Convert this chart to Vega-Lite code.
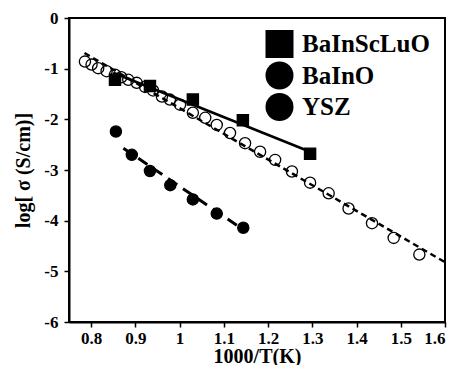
{
  "$schema": "https://vega.github.io/schema/vega-lite/v6.json",
  "width": 376,
  "height": 304,
  "autosize": "none",
  "padding": {"left": 69, "top": 18, "right": 17, "bottom": 43},
  "background": "white",
  "config": {
    "view": {"stroke": "black", "strokeWidth": 2},
    "font": "Liberation Serif",
    "axis": {
      "domain": true,
      "domainColor": "black",
      "domainWidth": 2,
      "tickColor": "black",
      "tickWidth": 1.5,
      "tickSize": 5,
      "grid": false,
      "labelFont": "Liberation Serif",
      "labelFontWeight": "bold",
      "labelFontSize": 17,
      "labelColor": "black",
      "titleFont": "Liberation Serif",
      "titleFontWeight": "bold",
      "titleFontSize": 20,
      "titleColor": "black"
    }
  },
  "datasets": {
    "points": [
      {"series": "BaInScLuO", "x": 0.854, "y": -1.22},
      {"series": "BaInScLuO", "x": 0.933, "y": -1.34},
      {"series": "BaInScLuO", "x": 1.030, "y": -1.61},
      {"series": "BaInScLuO", "x": 1.143, "y": -2.02},
      {"series": "BaInScLuO", "x": 1.295, "y": -2.68},
      {"series": "BaInO", "x": 0.856, "y": -2.24},
      {"series": "BaInO", "x": 0.892, "y": -2.70},
      {"series": "BaInO", "x": 0.933, "y": -3.02},
      {"series": "BaInO", "x": 0.979, "y": -3.30},
      {"series": "BaInO", "x": 1.030, "y": -3.58},
      {"series": "BaInO", "x": 1.084, "y": -3.86},
      {"series": "BaInO", "x": 1.144, "y": -4.14},
      {"series": "YSZ", "x": 0.786, "y": -0.86},
      {"series": "YSZ", "x": 0.801, "y": -0.92},
      {"series": "YSZ", "x": 0.816, "y": -0.99},
      {"series": "YSZ", "x": 0.835, "y": -1.05},
      {"series": "YSZ", "x": 0.854, "y": -1.12},
      {"series": "YSZ", "x": 0.868, "y": -1.17},
      {"series": "YSZ", "x": 0.884, "y": -1.22},
      {"series": "YSZ", "x": 0.903, "y": -1.28},
      {"series": "YSZ", "x": 0.922, "y": -1.36},
      {"series": "YSZ", "x": 0.940, "y": -1.43},
      {"series": "YSZ", "x": 0.960, "y": -1.55},
      {"series": "YSZ", "x": 0.978, "y": -1.61},
      {"series": "YSZ", "x": 1.001, "y": -1.71},
      {"series": "YSZ", "x": 1.030, "y": -1.87},
      {"series": "YSZ", "x": 1.058, "y": -1.97},
      {"series": "YSZ", "x": 1.084, "y": -2.11},
      {"series": "YSZ", "x": 1.114, "y": -2.27},
      {"series": "YSZ", "x": 1.148, "y": -2.47},
      {"series": "YSZ", "x": 1.182, "y": -2.64},
      {"series": "YSZ", "x": 1.216, "y": -2.80},
      {"series": "YSZ", "x": 1.254, "y": -3.03},
      {"series": "YSZ", "x": 1.295, "y": -3.25},
      {"series": "YSZ", "x": 1.337, "y": -3.46},
      {"series": "YSZ", "x": 1.382, "y": -3.76},
      {"series": "YSZ", "x": 1.435, "y": -4.05},
      {"series": "YSZ", "x": 1.484, "y": -4.34},
      {"series": "YSZ", "x": 1.542, "y": -4.67}
    ],
    "fits": [
      {"series": "BaInScLuO", "x": 0.85, "y": -1.08},
      {"series": "BaInScLuO", "x": 1.295, "y": -2.64},
      {"series": "BaInO", "x": 0.873, "y": -2.57},
      {"series": "BaInO", "x": 1.148, "y": -4.2},
      {"series": "YSZ", "x": 0.785, "y": -0.69},
      {"series": "YSZ", "x": 1.6, "y": -4.82}
    ]
  },
  "encoding": {
    "x": {
      "field": "x", "type": "quantitative",
      "scale": {"domain": [0.75, 1.6], "nice": false, "zero": false},
      "axis": {
        "orient": "bottom",
        "title": "1000/T(K)",
        "values": [0.8, 0.9, 1, 1.1, 1.2, 1.3, 1.4, 1.5, 1.6],
        "labelExpr": "'' + datum.value",
        "labelPadding": 3,
        "titlePadding": 0
      }
    },
    "y": {
      "field": "y", "type": "quantitative",
      "scale": {"domain": [-6, 0], "nice": false, "zero": false},
      "axis": {
        "orient": "left",
        "title": "log[ σ (S/cm)]",
        "values": [-6, -5, -4, -3, -2, -1, 0],
        "labelExpr": "'' + datum.value",
        "labelPadding": 6,
        "titlePadding": 10
      }
    }
  },
  "layer": [
    {
      "data": {"name": "fits"},
      "transform": [{"filter": "datum.series === 'BaInScLuO'"}],
      "mark": {"type": "line", "color": "black", "clip": true, "strokeWidth": 2.5},
      "encoding": {}
    },
    {
      "data": {"name": "fits"},
      "transform": [{"filter": "datum.series === 'BaInO'"}],
      "mark": {"type": "line", "color": "black", "clip": true, "strokeWidth": 3, "strokeDash": [11, 7]},
      "encoding": {}
    },
    {
      "data": {"name": "fits"},
      "transform": [{"filter": "datum.series === 'YSZ'"}],
      "mark": {"type": "line", "color": "black", "clip": true, "strokeWidth": 2.5, "strokeDash": [6, 4]},
      "encoding": {}
    },
    {
      "data": {"name": "points"},
      "mark": {"type": "point", "filled": true, "stroke": "black", "strokeWidth": 1.3, "opacity": 1, "size": 125},
      "encoding": {
        "fill": {
          "condition": {"test": "datum.series === 'YSZ'", "value": "transparent"},
          "value": "black"
        },
        "shape": {
          "field": "series", "type": "nominal",
          "scale": {"domain": ["BaInScLuO", "BaInO", "YSZ"], "range": ["square", "circle", "circle"]},
          "legend": {
            "title": null,
            "orient": "none",
            "legendX": 196.5,
            "legendY": 12,
            "padding": 0,
            "labelFont": "Liberation Serif",
            "labelFontSize": 25,
            "labelFontWeight": "bold",
            "labelColor": "black",
            "labelOffset": 8.5,
            "symbolSize": 784,
            "symbolStrokeWidth": 0,
            "symbolOpacity": 1,
            "symbolFillColor": "black",
            "rowPadding": 3.5,
            "encode": {
              "symbols": {
                "shape": {"value": {"signal": "datum.value === 'BaInScLuO' ? 'M-1.43,-0.09H1.43V0.09H-1.43Z M-0.36,-0.36H0.36V0.36H-0.36Z' : datum.value === 'BaInO' ? 'M-0.82,-0.1H0.84V0.1H-0.82Z M-0.36,0A0.36 0.36 0 1 1 0.36,0A0.36 0.36 0 1 1 -0.36,0Z' : 'M-1.41,-0.07H-1.18V0.07H-1.41Z M-0.94,-0.07H-0.59V0.07H-0.94Z M0.49,-0.07H0.8V0.07H0.49Z M1.04,-0.07H1.32V0.07H1.04Z M-0.41,0A0.34 0.34 0 1 1 0.27,0A0.34 0.34 0 1 1 -0.41,0Z M-0.32,0A0.25 0.25 0 1 0 0.18,0A0.25 0.25 0 1 0 -0.32,0Z M-0.32,-0.06H0.18V0.06H-0.32Z'"}},
                "fill": {"value": "black"},
                "stroke": {"value": "transparent"},
                "strokeWidth": {"value": 0},
                "opacity": {"value": 1},
                "size": {"value": 784}
              }
            }
          }
        }
      }
    }
  ]
}
